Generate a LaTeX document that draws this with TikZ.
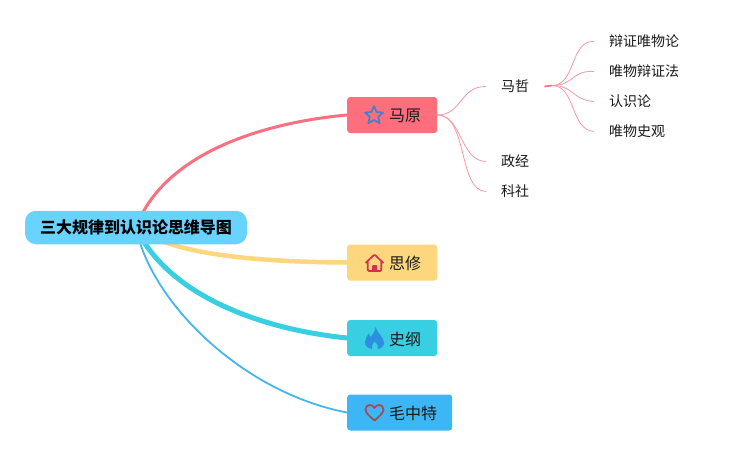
\documentclass[tikz,border=0pt]{standalone}
\usepackage{fontspec}
\setmainfont{Noto Sans CJK SC}
\usetikzlibrary{backgrounds}
\pgfdeclarelayer{paper}
\pgfsetlayers{paper,background,main}
\definecolor{cred}{HTML}{F9707F}
\definecolor{cyel}{HTML}{FDD77E}
\definecolor{ccya}{HTML}{38CFE3}
\definecolor{cblu}{HTML}{45B7EC}
\definecolor{boxblu}{HTML}{3DB6F6}
\definecolor{boxred}{HTML}{FF6E7D}
\definecolor{croot}{HTML}{69D3FF}
\definecolor{cthin}{HTML}{F29AA6}
\definecolor{ctext}{HTML}{1A1A1A}
\definecolor{istar}{HTML}{4A7FC8}
\definecolor{ihouse}{HTML}{D9304F}
\definecolor{iflame}{HTML}{2D8FE0}
\definecolor{iheart}{HTML}{B2444E}
\tikzset{
  every node/.style={text=ctext},
  rootbox/.style={fill=croot,rounded corners=11pt,minimum width=222pt,minimum height=33.5pt,inner sep=0pt,font=\fontsize{16}{18}\selectfont\bfseries,text=black},
  topicbox/.style={rounded corners=3pt,minimum height=36pt,inner sep=0pt,anchor=west,font=\fontsize{16}{18}\selectfont},
  topictext/.style={anchor=west,inner sep=0pt,font=\fontsize{16}{18}\selectfont},
  leaftext/.style={anchor=west,inner xsep=15pt,inner ysep=2pt,font=\fontsize{14}{16}\selectfont},
  thinline/.style={draw=cthin,line width=0.8pt}
}
\begin{document}
\begin{tikzpicture}[x=1pt,y=-1pt]
\begin{pgfonlayer}{paper}
\fill[white] (0,0) rectangle (739,455);
\end{pgfonlayer}
\useasboundingbox (0,0) rectangle (739,455);
\node[rootbox] (root) at (136,227.5) {\raisebox{-1pt}{三大规律到认识论思维导图}};
\node[topicbox,fill=boxred,minimum width=90pt] (my) at (347,115) {};
\node[topicbox,fill=cyel,minimum width=90pt] (sx) at (347,262.5) {};
\node[topicbox,fill=ccya,minimum width=90pt] (sg) at (347,338) {};
\node[topicbox,fill=boxblu,minimum width=105pt] (mz) at (347,412.5) {};
\node[topictext] (tmy) at (389,116) {马原};
\node[topictext] (tsx) at (389,263.5) {思修};
\node[topictext] (tsg) at (389,339) {史纲};
\node[topictext] (tmz) at (389,413.5) {毛中特};
\node[leaftext] (mazhe) at (486,86.5) {马哲};
\node[leaftext] (zj) at (486,161.5) {政经};
\node[leaftext] (ks) at (486,191.5) {科社};
\node[leaftext] (a) at (594,41.5) {辩证唯物论};
\node[leaftext] (b) at (594,71.5) {唯物辩证法};
\node[leaftext] (c) at (594,101.5) {认识论};
\node[leaftext] (d) at (594,131.5) {唯物史观};
\coordinate (hub) at (552,85.5);
% icons
\draw[line width=1.8pt,draw=istar,line join=round]
  (374,106) -- (376.6,112) -- (383,112.6) -- (378.2,116.9) -- (379.6,123.2) -- (374,120) -- (368.4,123.2) -- (369.8,116.9) -- (365,112.6) -- (371.4,112) -- cycle;
\draw[line width=1.7pt,draw=ihouse,line join=round,rounded corners=1pt]
  (365.5,263) -- (374.5,254.5) -- (383.5,263) (367.8,261) -- (367.8,271) -- (381.2,271) -- (381.2,261);
\fill[ihouse,rounded corners=1pt] (372,271.5) -- (372,265) -- (377,265) -- (377,271.5) -- cycle;
\fill[iflame] (375.5,327) .. controls (377,333) and (384,337) .. (384,343) .. controls (384,346.5) and (381,348.5) .. (377.5,349) .. controls (379,346.5) and (378,344) .. (374.5,341.5) .. controls (373,344) and (370.5,346) .. (372,349) .. controls (368,348.5) and (365,346) .. (365,342) .. controls (365,339) and (367,336.5) .. (368.5,333.5) .. controls (369.5,334.5) and (370.2,335.5) .. (370.6,337) .. controls (373,334) and (375.5,331) .. (375.5,327) -- cycle;
\draw[line width=1.7pt,draw=iheart,line join=round]
  (374.5,420.5) .. controls (370,416.5) and (365.5,413) .. (365.5,409.5) .. controls (365.5,406.5) and (367.5,405) .. (369.8,405) .. controls (371.8,405) and (373.5,406) .. (374.5,408) .. controls (375.5,406) and (377.2,405) .. (379.2,405) .. controls (381.5,405) and (383.5,406.5) .. (383.5,409.5) .. controls (383.5,413) and (379,416.5) .. (374.5,420.5) -- cycle;
\begin{scope}[on background layer]
\draw[cred,line width=3pt] (root.center) .. controls (165,150) and (270,122) .. (my.west);
\draw[cyel,line width=4.5pt] (root.center) .. controls (175,258) and (280,262) .. (sx.west);
\draw[ccya,line width=5pt] (root.center) .. controls (165,290) and (250,328) .. (sg.west);
\draw[cblu,line width=1.8pt] (root.center) .. controls (150,300) and (240,392) .. (mz.west);
\draw[thinline] (my.east) .. controls (462,115) and (460,86) .. (mazhe.west);
\draw[thinline] (my.east) .. controls (462,115) and (460,161) .. (zj.west);
\draw[thinline] (my.east) .. controls (468,115) and (458,191) .. (ks.west);
\draw[cred,line width=1.8pt] (mazhe.east) -- (hub);
\draw[thinline] (hub) .. controls (576,85.5) and (570,40) .. (a.west);
\draw[thinline] (hub) .. controls (574,85.5) and (572,70) .. (b.west);
\draw[thinline] (hub) .. controls (574,85.5) and (572,100) .. (c.west);
\draw[thinline] (hub) .. controls (576,85.5) and (570,130) .. (d.west);
\end{scope}
\end{tikzpicture}
\end{document}
